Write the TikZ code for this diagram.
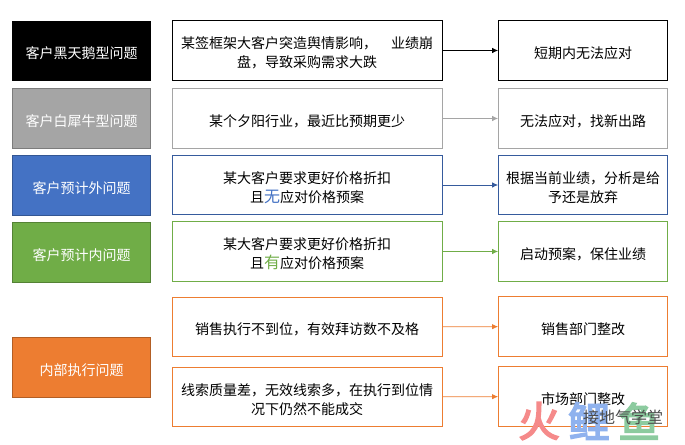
\documentclass[tikz,border=0pt]{standalone}
\usepackage{fontspec}
\setmainfont{Noto Sans CJK SC}
\newfontfamily\wmfont[FakeBold=4]{Noto Sans CJK SC}
\usetikzlibrary{arrows.meta}
\definecolor{cblue}{HTML}{4472C4}
\definecolor{cgreen}{HTML}{70AD47}
\definecolor{corange}{HTML}{ED7D31}
\definecolor{cgray}{HTML}{A5A5A5}
\definecolor{wred}{HTML}{F58A8A}
\definecolor{wblue}{HTML}{8FB2EE}
\definecolor{wgreen}{HTML}{8CCB9F}
\newcommand\tx[1]{\raisebox{-3pt}[\height][\depth]{\begin{tabular}{@{}c@{}}#1\end{tabular}}}
\tikzset{
  px/.style={x=0.75pt,y=-0.75pt},
  lbox/.style={draw=#1!75!black,fill=#1,text=white,line width=0.75pt,minimum width=104pt,minimum height=44.5pt,inner sep=0pt,font=\fontsize{10.5}{14}\selectfont},
  mbox/.style={draw=#1,fill=white,text=black,line width=0.75pt,minimum width=202.5pt,minimum height=44.5pt,inner sep=2pt,font=\fontsize{10.5}{14}\selectfont},
  rbox/.style={draw=#1,fill=white,text=black,line width=0.75pt,minimum width=126.5pt,minimum height=44.5pt,inner sep=2pt,font=\fontsize{10.5}{14}\selectfont},
  conn/.style={draw=#1,line width=0.6pt,-{Latex[length=4.5pt,width=4pt]}},
  mark glyph/.style={text=#1,inner sep=0pt,font=\wmfont\fontsize{31}{31}\selectfont},
}
\begin{document}
\begin{tikzpicture}[px]
\useasboundingbox (0,0) rectangle (685,445);
\node[lbox=black] (l1) at (81.5,51) {\tx{客户黑天鹅型问题}};
\node[lbox=cgray] (l2) at (81.5,118.5) {\tx{客户白犀牛型问题}};
\node[lbox=cblue] (l3) at (81.5,185.5) {\tx{客户预计外问题}};
\node[lbox=cgreen] (l4) at (81.5,252.5) {\tx{客户预计内问题}};
\node[lbox=corange] (l5) at (81.5,367.5) {\tx{内部执行问题}};

\node[mbox=black] (m1) at (307,50.5) {\tx{某签框架大客户突造舆情影响，\hspace{1em}业绩崩\\盘，导致采购需求大跌}};
\node[mbox=cgray] (m2) at (307,118.5) {\tx{某个夕阳行业，最近比预期更少}};
\node[mbox=cblue!80!black] (m3) at (307,185) {\tx{某大客户要求更好价格折扣\\且{\color{cblue}\fontsize{12}{14}\selectfont 无}应对价格预案}};
\node[mbox=cgreen] (m4) at (307,251.5) {\tx{某大客户要求更好价格折扣\\且{\color{cgreen}\fontsize{12}{14}\selectfont 有}应对价格预案}};
\node[mbox=corange] (m5) at (307,327) {\tx{销售执行不到位，有效拜访数不及格}};
\node[mbox=corange] (m6) at (307,397) {\tx{线索质量差，无效线索多，在执行到位情\\况下仍然不能成交}};

\node[rbox=black] (r1) at (583,50.5) {\tx{短期内无法应对}};
\node[rbox=cgray] (r2) at (583,118.5) {\tx{无法应对，找新出路}};
\node[rbox=cblue!80!black] (r3) at (583,185) {\tx{根据当前业绩，分析是给\\予还是放弃}};
\node[rbox=cgreen] (r4) at (583,251.5) {\tx{启动预案，保住业绩}};
\node[rbox=corange] (r5) at (583,326.5) {\tx{销售部门整改}};
\node[rbox=corange] (r6) at (583,396.5) {\tx{市场部门整改}};

\draw[conn=black] (m1) -- (r1);
\draw[conn=cgray] (m2) -- (r2);
\draw[conn=cblue!80!black] (m3) -- (r3);
\draw[conn=cgreen] (m4) -- (r4);
\draw[conn=corange] (m5) -- (r5);
\draw[conn=corange] (m6) -- (r6);

\node[mark glyph=wred] (w1) at (539,421) {火};
\node[mark glyph=wblue] (w2) at (589,421) {鲤};
\node[mark glyph=wgreen] (w3) at (639,421) {鱼};
\node[inner sep=0pt,text=black!70,font=\fontsize{12}{12}\selectfont] (w4) at (623,417) {接地气学堂};
\end{tikzpicture}
\end{document}
